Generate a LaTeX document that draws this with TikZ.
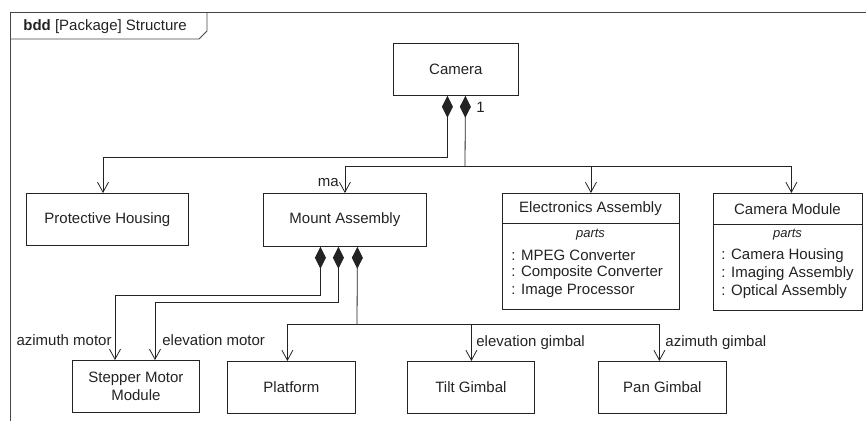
\documentclass[tikz,border=0pt]{standalone}
\usepackage{fontspec}
\setmainfont{Liberation Sans}
\usetikzlibrary{arrows.meta}
\definecolor{ink}{RGB}{35,35,35}
\definecolor{framegray}{RGB}{70,70,70}
\begin{document}
\begin{tikzpicture}[x=1pt,y=-1pt,
  line width=0.8pt,
  every node/.style={font=\fontsize{15}{18}\selectfont, text=ink},
  block/.style={draw=ink, inner sep=0pt, anchor=north west, align=center},
  tag/.style={inner sep=0pt},
  partsfont/.style={font=\fontsize{13}{15}\selectfont\itshape},
  compon/.style={draw=ink, {Diamond[length=22pt,width=11pt,fill=ink]}-},
  compto/.style={draw=ink, {Diamond[length=22pt,width=11pt,fill=ink]}-{Straight Barb[length=10pt,width=11pt]}},
  assoc/.style={draw=ink, -{Straight Barb[length=10pt,width=11pt]}}
]
\useasboundingbox (0,0) rectangle (866,421);

% diagram frame and its name tab
\draw[framegray] (866,12) -- (10,12) -- (10,421);
\draw[framegray] (207,12) -- (207,31) -- (199,39) -- (10,39);
\node[tag, anchor=west] (title) at (23,27) {\textbf{bdd} [Package] Structure};

% blocks
\node[block, minimum width=125pt, minimum height=52pt] (cam) at (393,43) {Camera};
\node[block, minimum width=162pt, minimum height=52pt] (ph) at (26,193) {Protective Housing};
\node[block, minimum width=163pt, minimum height=53pt] (ma) at (263,193) {Mount Assembly};

% Electronics Assembly with parts compartment
\node[block, minimum width=177pt, minimum height=116pt] (ea) at (502,193) {};
\draw[ink] (502,223) -- (679,223);
\node[tag] (eat) at (590.5,209) {Electronics Assembly};
\node[tag, partsfont] (eap) at (590.5,235) {parts};
\node[tag, anchor=west] (ea1) at (511,255) {: MPEG Converter};
\node[tag, anchor=west] (ea2) at (511,273) {: Composite Converter};
\node[tag, anchor=west] (ea3) at (511,291) {: Image Processor};

% Camera Module with parts compartment
\node[block, minimum width=149pt, minimum height=117pt] (cmod) at (713,193) {};
\draw[ink] (713,224) -- (862,224);
\node[tag] (cmt) at (787.5,209) {Camera Module};
\node[tag, partsfont] (cmp) at (787.5,235) {parts};
\node[tag, anchor=west] (cm1) at (721,256) {: Camera Housing};
\node[tag, anchor=west] (cm2) at (721,274) {: Imaging Assembly};
\node[tag, anchor=west] (cm3) at (721,292) {: Optical Assembly};

% lower row
\node[block, minimum width=127pt, minimum height=52pt] (sm) at (72,360) {Stepper Motor\\Module};
\node[block, minimum width=128pt, minimum height=52pt] (pf) at (227,361) {Platform};
\node[block, minimum width=127pt, minimum height=52pt] (tg) at (407,361) {Tilt Gimbal};
\node[block, minimum width=128pt, minimum height=52pt] (pg) at (598,361) {Pan Gimbal};

% bend points
\coordinate (jp) at (103,157);
\coordinate (jm) at (465,166);
\coordinate (ja) at (115,295);
\coordinate (je) at (155,302);
\coordinate (jg) at (357,324);

% Camera composition
\draw[compto] ([xshift=-8.5pt]cam.south) |- (jp) -- (jp |- ph.north);
\draw[compon] ([xshift=9.5pt]cam.south) -- (jm);
\draw[assoc] (jm) -| (ma.north);
\draw[assoc] (jm) -| (ea.north);
\draw[assoc] (jm) -| ([xshift=3.5pt]cmod.north);
\node[tag, anchor=west] (mult) at (476,107) {1};
\node[tag, anchor=east] (maname) at (339,183) {ma};

% Mount Assembly composition
\draw[compto] ([xshift=-24.5pt]ma.south) |- (ja) -- (ja |- sm.north);
\draw[compto] ([xshift=-6.5pt]ma.south) |- (je) -- (je |- sm.north);
\draw[compon] ([xshift=12.5pt]ma.south) -- (jg);
\draw[assoc] (jg) -| ([xshift=-4pt]pf.north);
\draw[assoc] (jg) -| ([xshift=0.5pt]tg.north);
\draw[assoc] (jg) -| ([xshift=-3pt]pg.north);

% role names
\node[tag, anchor=east] (r1) at (112,340) {azimuth motor};
\node[tag, anchor=west] (r2) at (162,340) {elevation motor};
\node[tag, anchor=west] (r3) at (476,343) {elevation gimbal};
\node[tag, anchor=west] (r4) at (665,343) {azimuth gimbal};
\end{tikzpicture}
\end{document}
